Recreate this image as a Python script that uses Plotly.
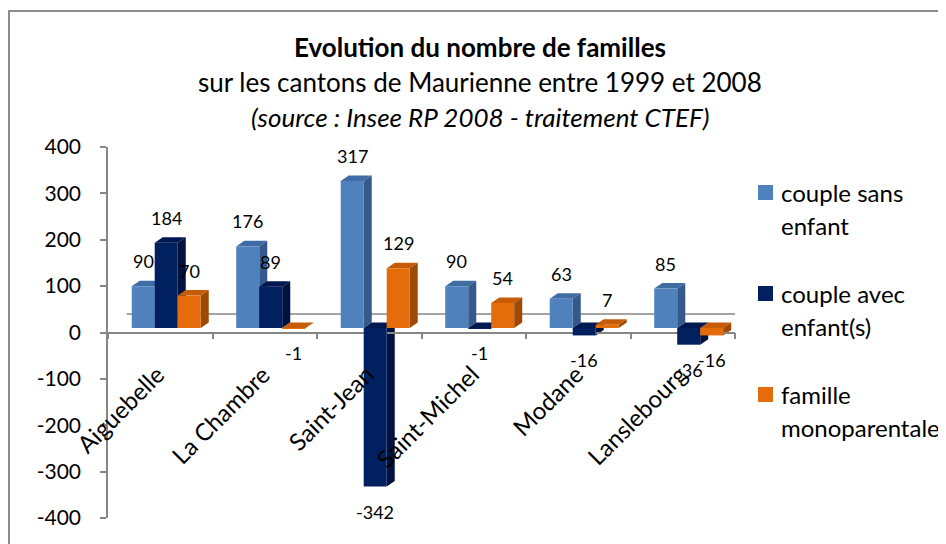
import plotly.graph_objects as go

# ---------------- data ----------------
categories = ["Aiguebelle", "La Chambre", "Saint-Jean", "Saint-Michel", "Modane", "Lanslebourg"]
series_names = ["couple sans enfant", "couple avec enfant(s)", "famille monoparentale"]
legend_lines = [["couple sans", "enfant"], ["couple avec", "enfant(s)"], ["famille", "monoparentale"]]
couple_sans_enfant = [90, 176, 317, 90, 63, 85]
couple_avec_enfants = [184, 89, -342, -1, -16, -36]
famille_monoparentale = [70, -1, 129, 54, 7, -16]
y_tick_values = [-400, -300, -200, -100, 0, 100, 200, 300, 400]
y_tick_labels = ["-400", "-300", "-200", "-100", "0", "100", "200", "300", "400"]

series_values = [couple_sans_enfant, couple_avec_enfants, famille_monoparentale]

# ---------------- style ----------------
FONT = "Lato"
front_colors = ["#4F81BD", "#002060", "#E46C0A"]
top_colors = ["#3F6DA3", "#001850", "#C65C08"]
side_colors = ["#35598A", "#00123D", "#9C4A06"]
AXIS_GREY = "#868686"

PAGE_W, PAGE_H = 946, 544
OFF = 8                                  # default page body margin
FW, FH = PAGE_W - OFF, PAGE_H - OFF      # figure size
L, R, T, B = 108, 735, 147, 518          # plot area in page pixels
BAR_W = 0.22
OFFSETS = [-0.273, -0.053, 0.167]
DX = 0.077      # 3D depth in x units
DY = 11.9       # 3D depth in y units


def px(x):
    return (x - L) / (R - L)


def py(y):
    return (B - y) / (B - T)


fig = go.Figure()
shapes = []
annotations = []

# back wall zero line
shapes.append(dict(type="line", xref="x", yref="y", x0=-0.5 + 0.18, x1=5.5 + 0.06,
                   y0=30, y1=30, line=dict(color=AXIS_GREY, width=1.5), layer="below"))

for s, vals in enumerate(series_values):
    xs = list(range(len(categories)))
    fig.add_trace(go.Bar(
        x=xs, y=vals, width=BAR_W, offset=OFFSETS[s],
        marker=dict(color=front_colors[s], line=dict(width=0)),
        name=series_names[s], showlegend=False, hoverinfo="skip"))
    for i, v in enumerate(vals):
        x0 = i + OFFSETS[s]
        x1 = x0 + BAR_W
        top = max(v, 0)
        bot = min(v, 0)
        shapes.append(dict(
            type="path", xref="x", yref="y", layer="between",
            path=f"M {x0},{top} L {x1},{top} L {x1 + DX},{top + DY} L {x0 + DX},{top + DY} Z",
            fillcolor=top_colors[s], line=dict(width=0)))
        shapes.append(dict(
            type="path", xref="x", yref="y", layer="between",
            path=f"M {x1},{bot} L {x1},{top} L {x1 + DX},{top + DY} L {x1 + DX},{bot + DY} Z",
            fillcolor=side_colors[s], line=dict(width=0)))
        annotations.append(dict(
            x=x0 + BAR_W / 2, y=v, xref="x", yref="y", text=str(v), showarrow=False,
            xanchor="center", yanchor="middle", yshift=25 if v >= 0 else -25,
            font=dict(family=FONT, size=18, color="#000")))

# invisible trace so the visible value axis (y2) is drawn
fig.add_trace(go.Scatter(x=[None], y=[None], yaxis="y2", showlegend=False, hoverinfo="skip"))

# category labels
for i, c in enumerate(categories):
    annotations.append(dict(
        x=i, y=0, xref="x", yref="y2", text=c, showarrow=False, textangle=-45,
        xanchor="right", yanchor="top", xshift=13, yshift=-24,
        font=dict(family=FONT, size=24, color="#000")))

# titles
title_lines = [
    ("<b>Evolution du nombre de familles</b>", 47),
    ("sur les cantons de Maurienne entre 1999 et 2008", 82),
    ("<i>(source : Insee RP 2008 - traitement CTEF)</i>", 117),
]
for txt, yy in title_lines:
    annotations.append(dict(
        x=px(480), y=py(yy), xref="paper", yref="paper", text=txt, showarrow=False,
        xanchor="center", yanchor="middle", font=dict(family=FONT, size=26, color="#000")))

# legend
legend_tops = [185, 286, 387]
for s, lines in enumerate(legend_lines):
    t = legend_tops[s]
    shapes.append(dict(type="rect", xref="paper", yref="paper",
                       x0=px(758), x1=px(773), y0=py(t), y1=py(t + 15),
                       fillcolor=front_colors[s], line=dict(width=0)))
    for k, ln in enumerate(lines):
        annotations.append(dict(
            x=px(779), y=py(t + 7 + 33 * k), xref="paper", yref="paper", text=ln,
            showarrow=False, xanchor="left", yanchor="middle",
            font=dict(family=FONT, size=24, color="#000")))

# outer border
shapes.append(dict(type="rect", xref="paper", yref="paper",
                   x0=px(9), y0=py(11), x1=px(1100), y1=py(700),
                   line=dict(color="#8C8C8C", width=2), fillcolor="rgba(0,0,0,0)", layer="above"))

fig.update_layout(
    width=FW, height=FH,
    margin=dict(l=L - OFF, r=FW - (R - OFF), t=T - OFF, b=FH - (B - OFF), pad=0),
    paper_bgcolor="white", plot_bgcolor="rgba(0,0,0,0)",
    barmode="overlay",
    showlegend=False,
    xaxis=dict(range=[-0.5, 5.5], tickvals=[k - 0.5 for k in range(len(categories) + 1)],
               showticklabels=False, ticks="outside", ticklen=6, tickcolor=AXIS_GREY, tickwidth=1.5,
               showline=True, linecolor=AXIS_GREY, linewidth=1.5, showgrid=False, zeroline=False,
               anchor="free", position=0.5, layer="below traces", fixedrange=True),
    # bar scale: same px per unit as the value axis, floor drawn 4 px higher (3D view)
    yaxis=dict(range=[-409.7, 390.3], visible=False, showgrid=False, zeroline=False, fixedrange=True),
    yaxis2=dict(range=[-400, 400], overlaying="y", side="left", anchor="x",
                tickvals=y_tick_values, ticktext=y_tick_labels,
                ticks="outside", ticklen=6, tickcolor=AXIS_GREY, tickwidth=1.5,
                showline=True, linecolor=AXIS_GREY, linewidth=1.5, showgrid=False, zeroline=False,
                tickfont=dict(family=FONT, size=21, color="#000"), ticklabelstandoff=15,
                fixedrange=True),
    shapes=shapes,
    annotations=annotations,
)

fig.write_html("out.html")
